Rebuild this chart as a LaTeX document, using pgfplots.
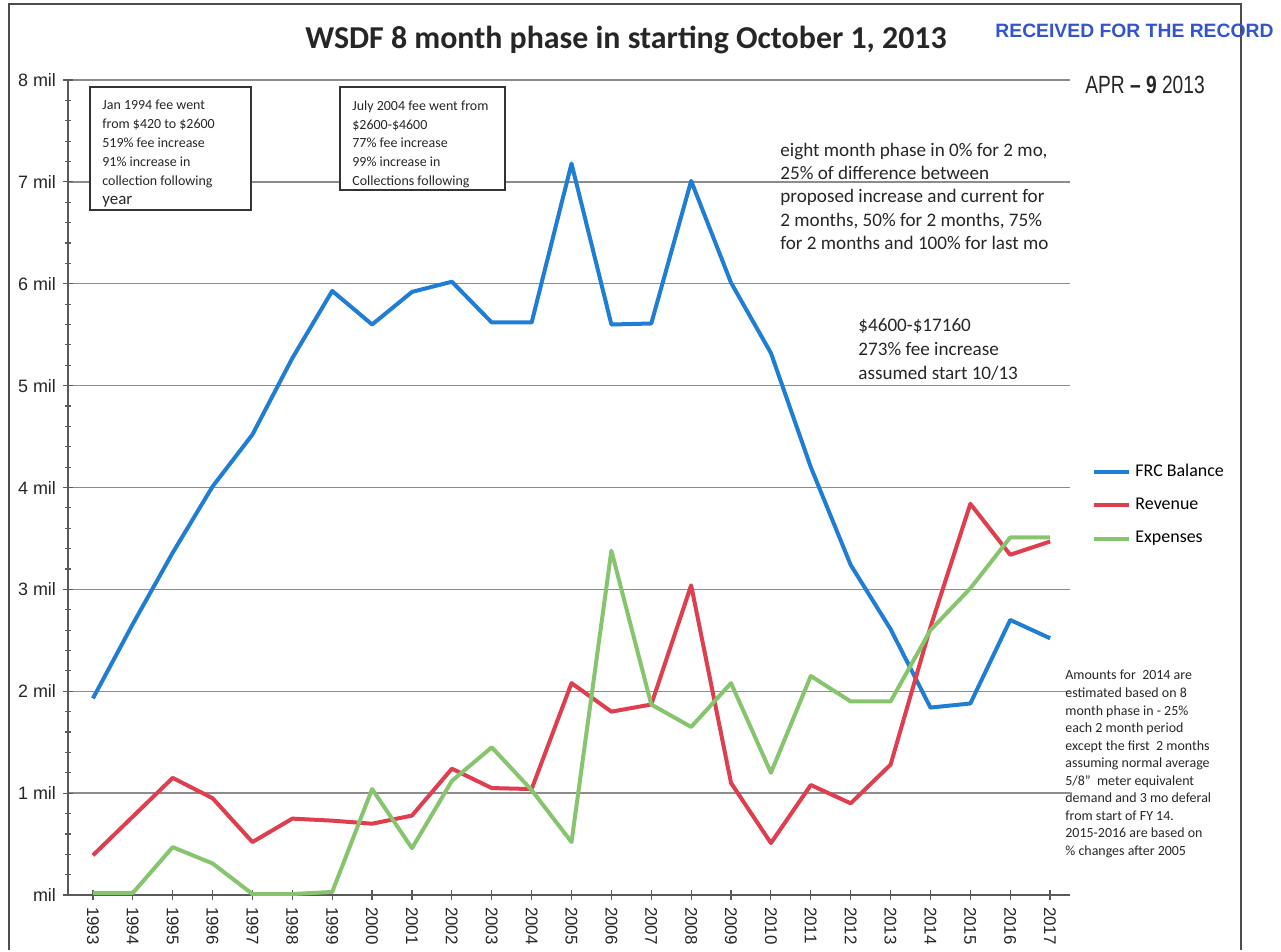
\documentclass[border=0pt]{standalone}
\usepackage{pgfplots}
\pgfplotsset{compat=1.18}
\usepackage{fontspec}
\setmainfont{Carlito}
\newfontfamily\arial{Liberation Sans}
\definecolor{frcblue}{RGB}{31,125,212}
\definecolor{revred}{RGB}{222,62,78}
\definecolor{expgreen}{RGB}{135,196,110}
\definecolor{stampblue}{RGB}{50,85,200}
\definecolor{gridgray}{RGB}{140,140,140}
\begin{document}
\begin{tikzpicture}
\begin{axis}[
  at={(0,0)}, anchor=south west,
  scale only axis, width=501bp, height=407.5bp,
  xmin=1992.375, xmax=2017.5, ymin=0, ymax=8,
  axis x line*=bottom, axis y line*=left,
  axis line style={draw=black!65, line width=0.6bp},
  xtick={1993,...,2017}, minor x tick num=1,
  ytick={0,...,8}, minor y tick num=4,
  yticklabels={mil,1 mil,2 mil,3 mil,4 mil,5 mil,6 mil,7 mil,8 mil},
  /pgf/number format/assume math mode=true,
  /pgf/number format/1000 sep={},
  xticklabel style={rotate=-90, anchor=west, font=\arial\fontsize{8.5}{10}\selectfont, text=black!85},
  yticklabel style={font=\arial\fontsize{9}{10}\selectfont, text=black!85},
  ymajorgrids, grid style={draw=gridgray, line width=0.7bp},
  tick style={draw=black!65, line width=0.6bp},
  tick align=center, major tick length=5bp, minor tick length=3bp,
  legend style={at={(1.022,0.534)}, anchor=north west, draw=none, fill=none,
    font=\fontsize{9}{11}\selectfont, row sep=5.3bp, inner sep=0pt,
    /tikz/every even column/.append style={column sep=0bp}},
  legend cell align=left,
  legend image code/.code={\draw[#1] (0bp,0bp) -- (17.5bp,0bp);},
]
\addplot[frcblue, line width=2bp, line join=round] coordinates {
(1993,1.93) (1994,2.66) (1995,3.36) (1996,4.01) (1997,4.52) (1998,5.27) (1999,5.93)
(2000,5.60) (2001,5.92) (2002,6.02) (2003,5.62) (2004,5.62) (2005,7.18) (2006,5.60)
(2007,5.61) (2008,7.01) (2009,6.01) (2010,5.32) (2011,4.20) (2012,3.24) (2013,2.61)
(2014,1.84) (2015,1.88) (2016,2.70) (2017,2.52)};
\addlegendentry{FRC Balance}
\addplot[revred, line width=2bp, line join=round] coordinates {
(1993,0.39) (1994,0.77) (1995,1.15) (1996,0.95) (1997,0.52) (1998,0.75) (1999,0.73)
(2000,0.70) (2001,0.78) (2002,1.24) (2003,1.05) (2004,1.04) (2005,2.08) (2006,1.80)
(2007,1.87) (2008,3.04) (2009,1.10) (2010,0.51) (2011,1.08) (2012,0.90) (2013,1.28)
(2014,2.63) (2015,3.84) (2016,3.34) (2017,3.47)};
\addlegendentry{Revenue}
\addplot[expgreen, line width=2bp, line join=round] coordinates {
(1993,0.02) (1994,0.02) (1995,0.47) (1996,0.31) (1997,0.01) (1998,0.01) (1999,0.03)
(2000,1.04) (2001,0.46) (2002,1.12) (2003,1.45) (2004,1.03) (2005,0.52) (2006,3.38)
(2007,1.87) (2008,1.65) (2009,2.08) (2010,1.20) (2011,2.15) (2012,1.90) (2013,1.90)
(2014,2.60) (2015,3.01) (2016,3.51) (2017,3.51)};
\addlegendentry{Expenses}
\end{axis}
\begin{scope}[x=0.5bp, y=-0.5bp, shift={(-34bp,447.5bp)}]
\path[use as bounding box] (0,0) rectangle (1281,950);
\draw[black!70, line width=0.8bp] (9,950) -- (9,4) -- (1241,4) -- (1241,950);
\node[font=\bfseries\fontsize{16}{19}\selectfont, text=black!85] at (626,40) {WSDF 8 month phase in starting October 1, 2013};
\node[font=\arial\bfseries\fontsize{9.7}{12}\selectfont, text=stampblue, anchor=west, inner sep=0pt] at (995,31) {RECEIVED FOR THE RECORD};
\node[font=\arial\fontsize{12.5}{14}\selectfont, xscale=0.77, anchor=west, inner sep=0pt, text=black!85] at (1085,85) {APR {\bfseries – 9} 2013};
\draw[black!80, line width=0.6bp, fill=white] (90,87) rectangle (251,210);
\node[anchor=north west, align=left, inner sep=0pt, font=\fontsize{7}{9.5}\selectfont, text=black!85] at (102,100) {Jan 1994 fee went\\from \$420 to \$2600\\519\% fee increase\\91\% increase in\\collection following\\{\fontsize{8.5}{10}\selectfont year}};
\draw[black!80, line width=0.6bp, fill=white] (340,87) rectangle (505,190);
\node[anchor=north west, align=left, inner sep=0pt, font=\fontsize{7}{9.5}\selectfont, text=black!85] at (352,100) {July 2004 fee went from\\\$2600-\$4600\\77\% fee increase\\99\% increase in\\Collections following};
\node[anchor=north west, align=left, inner sep=0pt, font=\fontsize{9.6}{11.6}\selectfont, text=black!85] at (780,143) {eight month phase in 0\% for 2 mo,\\25\% of difference between\\proposed increase and current for\\2 months, 50\% for 2 months, 75\%\\for 2 months and 100\% for last mo};
\node[anchor=north west, align=left, inner sep=0pt, font=\fontsize{9.6}{12.2}\selectfont, text=black!85] at (858,318) {\$4600-\$17160\\273\% fee increase\\assumed start 10/13};
\node[anchor=north west, align=left, inner sep=0pt, font=\fontsize{7}{8.8}\selectfont, text=black!85] at (1065,670) {Amounts for~ 2014 are\\estimated based on 8\\month phase in - 25\%\\each 2 month period\\except the first~ 2 months\\assuming normal average\\5/8"~ meter equivalent\\demand and 3 mo deferal\\from start of FY 14.\\2015-2016 are based on\\\% changes after 2005};
\end{scope}
\end{tikzpicture}
\end{document}
